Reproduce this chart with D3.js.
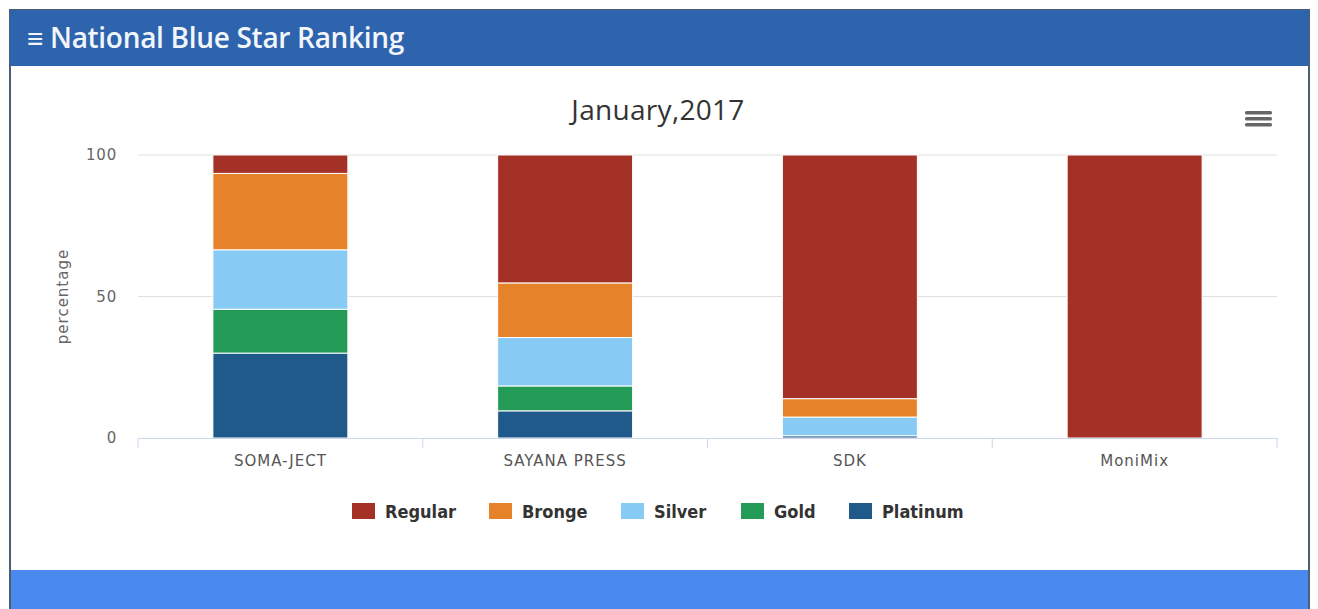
<!DOCTYPE html>
<html>
<head>
<meta charset="utf-8">
<script src="https://cdn.jsdelivr.net/npm/d3@7"></script>
<style>
  body { margin: 0; background: #fff; }
  #svgContainer { width: 1318px; height: 609px; }
</style>
</head>
<body>
<div id="svgContainer"></div>
<script>
var categories = ["SOMA-JECT", "SAYANA PRESS", "SDK", "MoniMix"];
var seriesNames = ["Regular", "Bronge", "Silver", "Gold", "Platinum"];
var seriesColors = ["#a33126", "#e6832a", "#87cbf5", "#239a55", "#1f5a8a"];

// percentages per category
var regular  = [6.5, 45.2, 86.1, 100];
var bronge   = [27.0, 19.3, 6.5, 0];
var silver   = [21.0, 17.1, 6.6, 0];
var gold     = [15.5, 8.8, 0, 0];
var platinum = [30.0, 9.6, 0.8, 0];

var yTicks = [0, 50, 100];

var W = 1318, H = 609;
var plotLeft = 138, plotRight = 1277, plotTop = 155, plotBottom = 438;

var svg = d3.select("#svgContainer").append("svg")
    .attr("width", W)
    .attr("height", H)
    .style("font-family", "'DejaVu Sans', sans-serif");

// panel frame
svg.append("rect")
    .attr("x", 10).attr("y", 10)
    .attr("width", 1299).attr("height", 600)
    .attr("fill", "#fff")
    .attr("stroke", "#4d5f73")
    .attr("stroke-width", 2);

svg.append("rect")
    .attr("x", 10).attr("y", 10)
    .attr("width", 1299).attr("height", 56)
    .attr("fill", "#2e63ad");

svg.append("text")
    .attr("x", 27).attr("y", 48)
    .attr("fill", "#f2f6fb")
    .style("font-family", "'Open Sans', sans-serif")
    .style("font-size", "28px")
    .style("font-weight", "600")
    .style("letter-spacing", "-0.3px")
    .text("\u2261 National Blue Star Ranking");

svg.append("rect")
    .attr("x", 11).attr("y", 570)
    .attr("width", 1297).attr("height", 39)
    .attr("fill", "#4a8aef");

// chart title + menu icon
svg.append("text")
    .attr("x", 658).attr("y", 120)
    .attr("text-anchor", "middle")
    .attr("fill", "#333")
    .style("font-family", "'Open Sans', sans-serif")
    .style("font-size", "28px")
    .style("letter-spacing", "0.3px")
    .text("January,2017");

[0, 6, 12].forEach(function(dy) {
    svg.append("rect")
        .attr("x", 1245).attr("y", 111 + dy)
        .attr("width", 27).attr("height", 3.5)
        .attr("rx", 1.5)
        .attr("fill", "#666");
});

// scales
var x = d3.scaleBand()
    .domain(categories)
    .range([plotLeft, plotRight])
    .paddingInner(0.526)
    .paddingOuter(0.263);

var y = d3.scaleLinear()
    .domain([0, 100])
    .range([plotBottom, plotTop]);

// gridlines
svg.append("g")
    .selectAll("line")
    .data(yTicks.filter(function(d) { return d > 0; }))
    .enter().append("line")
    .attr("x1", plotLeft).attr("x2", plotRight)
    .attr("y1", function(d) { return y(d); })
    .attr("y2", function(d) { return y(d); })
    .attr("stroke", "#e0e0e0")
    .attr("stroke-width", 1);

// y axis labels
var yAxis = d3.axisLeft(y).tickValues(yTicks).tickSize(0).tickPadding(21);
var gy = svg.append("g")
    .attr("transform", "translate(" + plotLeft + ",0)")
    .call(yAxis)
    .attr("font-family", null);
gy.select(".domain").remove();
gy.selectAll("text")
    .attr("fill", "#666")
    .style("font-family", "'DejaVu Sans', sans-serif")
    .style("font-size", "15px")
    .style("letter-spacing", "0.8px");

svg.append("text")
    .attr("transform", "translate(68," + ((plotTop + plotBottom) / 2) + ") rotate(-90)")
    .attr("text-anchor", "middle")
    .attr("fill", "#666")
    .style("font-size", "15px")
    .style("letter-spacing", "1px")
    .text("percentage");

// stacked data
var rows = categories.map(function(c, i) {
    return {
        cat: c,
        Regular: regular[i],
        Bronge: bronge[i],
        Silver: silver[i],
        Gold: gold[i],
        Platinum: platinum[i]
    };
});

// stack from bottom: Platinum first
var stackOrder = seriesNames.slice().reverse();
var stacked = d3.stack().keys(stackOrder)(rows);
var color = d3.scaleOrdinal().domain(seriesNames).range(seriesColors);

svg.append("g")
    .selectAll("g")
    .data(stacked)
    .enter().append("g")
    .attr("fill", function(d) { return color(d.key); })
    .selectAll("rect")
    .data(function(d) { return d; })
    .enter().append("rect")
    .attr("x", function(d) { return x(d.data.cat); })
    .attr("width", x.bandwidth())
    .attr("y", function(d) { return y(d[1]); })
    .attr("height", function(d) { return Math.max(0, y(d[0]) - y(d[1])); })
    .attr("stroke", "#fff")
    .attr("stroke-width", function(d) { return (d[1] - d[0]) > 0 ? 1 : 0; });

// x axis
var xAxis = d3.axisBottom(x).tickSize(0).tickPadding(17);
var gx = svg.append("g")
    .attr("transform", "translate(0," + plotBottom + ")")
    .call(xAxis)
    .attr("font-family", null);
gx.select(".domain").attr("stroke", "#ccd6eb");
gx.selectAll("text")
    .attr("fill", "#555")
    .style("font-family", "'DejaVu Sans', sans-serif")
    .style("font-size", "15px")
    .style("letter-spacing", "1px");

// band boundary ticks
var bounds = categories.map(function(c) { return x(c) - x.step() * x.paddingOuter(); });
bounds.push(plotRight);
gx.selectAll(".btick")
    .data(bounds)
    .enter().append("line")
    .attr("class", "btick")
    .attr("x1", function(d) { return d; })
    .attr("x2", function(d) { return d; })
    .attr("y1", 0).attr("y2", 10)
    .attr("stroke", "#ccd6eb");

// legend
var legendX = [352, 489, 621, 741, 849];
var legend = svg.append("g")
    .selectAll("g")
    .data(seriesNames)
    .enter().append("g")
    .attr("transform", function(d, i) { return "translate(" + legendX[i] + ",503)"; });

legend.append("rect")
    .attr("width", 23).attr("height", 16)
    .attr("fill", function(d) { return color(d); });

legend.append("text")
    .attr("x", 33).attr("y", 15)
    .attr("fill", "#333")
    .style("font-size", "18px")
    .style("font-weight", "bold")
    .style("font-family", "'DejaVu Sans Condensed', 'DejaVu Sans', sans-serif")
    .text(function(d) { return d; });
</script>
</body>
</html>
